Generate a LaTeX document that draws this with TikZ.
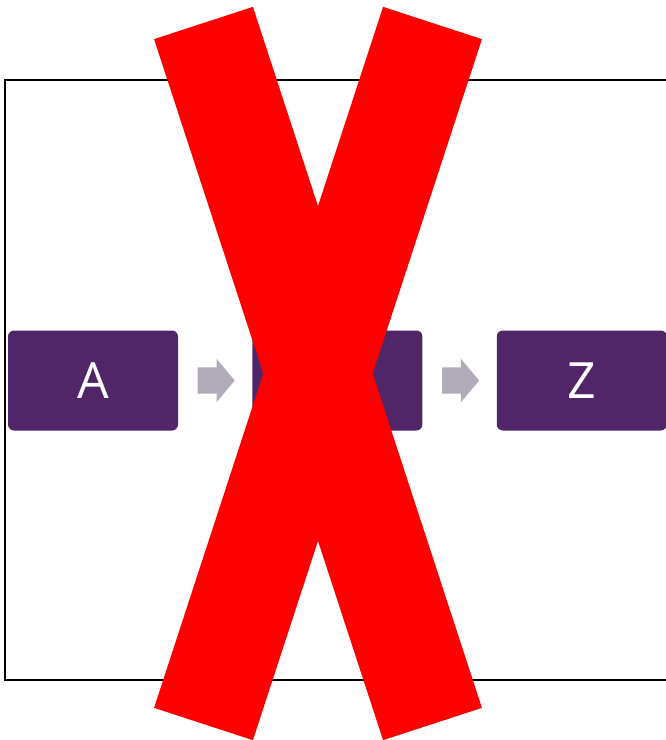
\documentclass[tikz,border=0pt]{standalone}
\usepackage{fontspec}
\setmainfont{Open Sans}
\usepackage{tikz}
\usetikzlibrary{shapes.arrows, positioning, calc}
\definecolor{mypurple}{RGB}{80,38,104}
\definecolor{myarrow}{RGB}{178,172,186}
\definecolor{myred}{RGB}{255,0,0}
\tikzset{
  stepbox/.style={rectangle, fill=mypurple, text=white,
    minimum width=170pt, minimum height=100pt,
    font=\fontsize{50}{60}\selectfont, rounded corners=6pt, inner sep=0pt},
  flow/.style={single arrow, fill=myarrow, draw=none,
    minimum height=37pt, minimum width=43pt,
    inner xsep=0pt, inner ysep=13pt,
    single arrow head extend=8.5pt, single arrow tip angle=100},
  frame/.style={line width=1.5pt, color=black},
  cross/.style={line width=104pt, color=myred}
}
\begin{document}
\begin{tikzpicture}[x=1pt, y=-1pt]
  \useasboundingbox (0,0) rectangle (666,740);

  % Outer frame
  \draw[frame] (670,80) -- (5,80) -- (5,680) -- (670,680);

  % Process boxes
  \node[stepbox] (a) at (93,380.5) {A};
  \node[stepbox, right=74pt of a] (b) {};
  \node[stepbox, right=74pt of b] (z) {Z};

  % Block arrows between boxes
  \node[flow] (ab) at ($(a.east)!0.5!(b.west)+(-4.5,0)$) {};
  \node[flow] (bz) at ($(b.east)!0.5!(z.west)+(-4.5,0)$) {};

  % Red cross over everything
  \coordinate (tl) at (203.5,23);
  \coordinate (tr) at (432.5,23);
  \coordinate (bl) at (203.5,724);
  \coordinate (br) at (432.5,724);
  \draw[cross] (tl) -- (br);
  \draw[cross] (tr) -- (bl);
\end{tikzpicture}
\end{document}
